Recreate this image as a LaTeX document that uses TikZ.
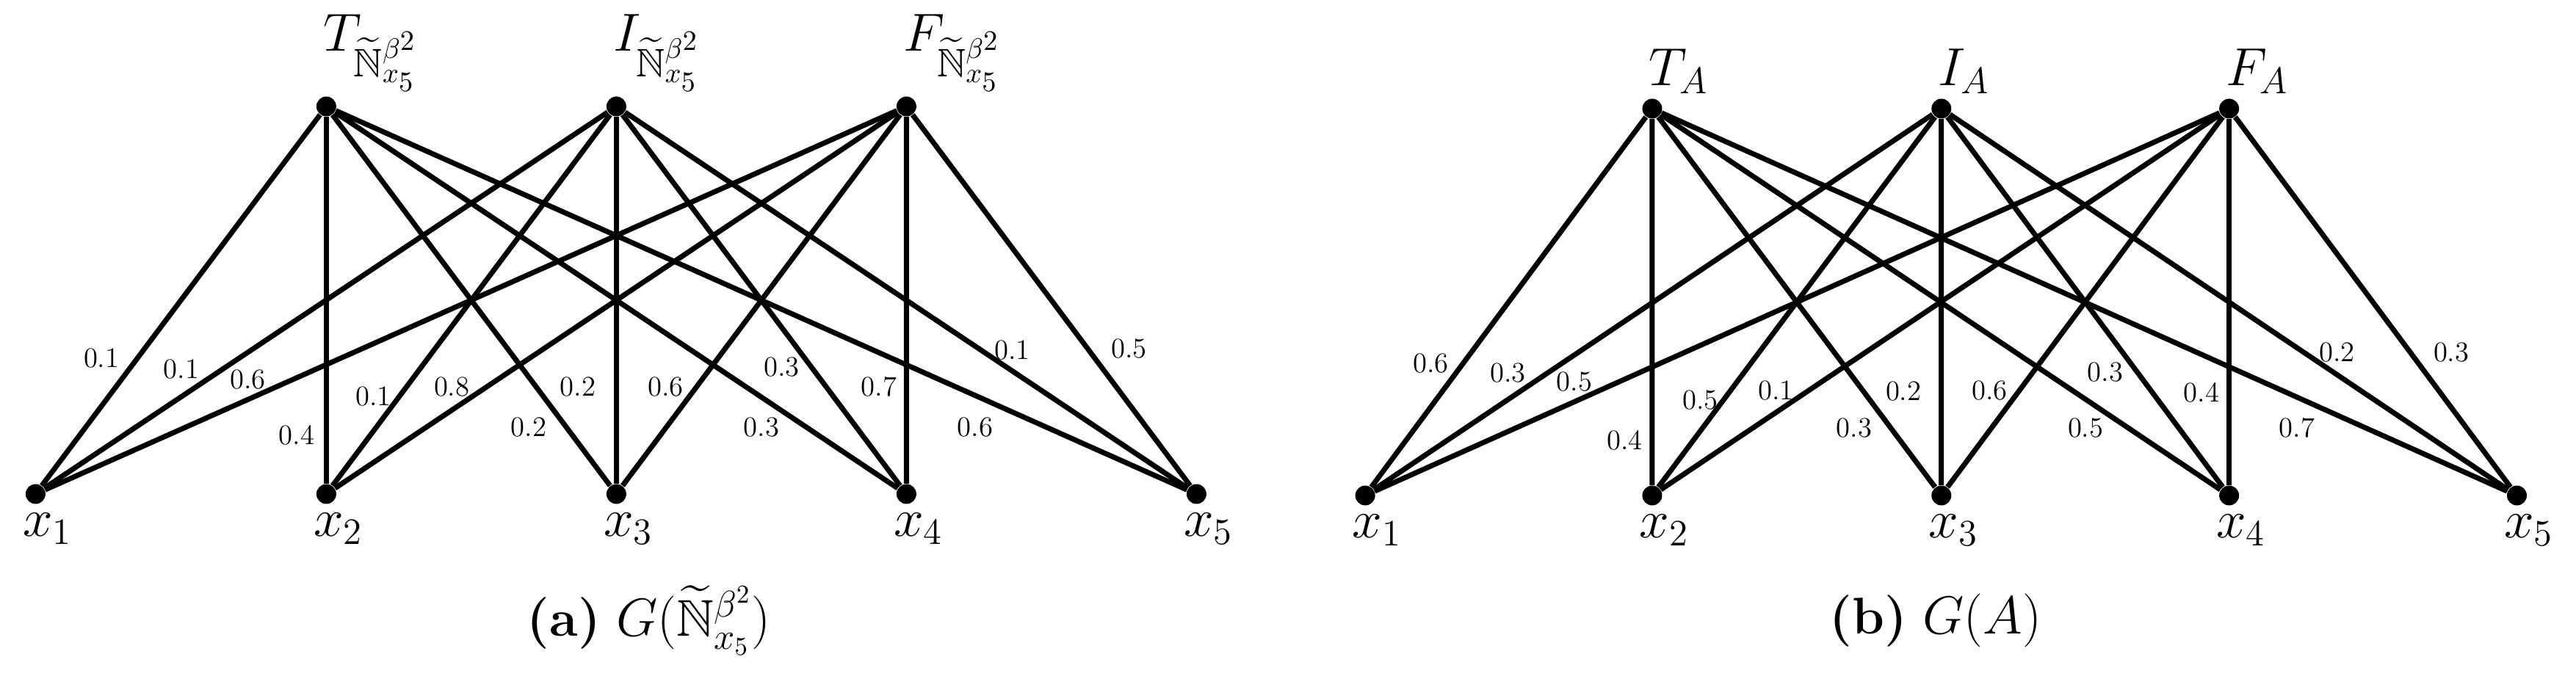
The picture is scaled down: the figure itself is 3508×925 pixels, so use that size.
\documentclass[tikz,border=0pt]{standalone}
\usepackage{amssymb}
\begin{document}
\begin{tikzpicture}[x=0.01cm,y=-0.01cm,
  dot/.style={circle,fill=black,inner sep=0pt,minimum size=0.27cm},
  edge/.style={line width=2pt},
  wl/.style={font=\fontsize{11}{13}\selectfont,inner sep=0pt},
  vl/.style={font=\fontsize{22}{26}\selectfont,inner sep=0pt},
  captext/.style={font=\fontsize{20}{24}\selectfont,inner sep=0pt}]
\useasboundingbox (0,0) rectangle (3508,925);
% ---------- left graph
\begin{scope}[xscale=0.9875]
\foreach \n/\x in {T/450,I/850,F/1250}{\node[dot] (a\n) at (\x,145) {};}
\foreach \i/\x in {1/49,2/450,3/850,4/1250,5/1650}{
  \node[dot] (a\i) at (\x,673) {};
  \node[vl,anchor=north west] (ax\i) at ([xshift=-0.18cm,yshift=-0.25cm]a\i) {$x_{\i}$};}
\node[vl,anchor=south west] (aTl) at ([xshift=-0.05cm,yshift=0.2cm]aT) {$T_{\widetilde{\mathbb{N}}^{\beta^2}_{x_5}}$};
\node[vl,anchor=south west] (aIl) at ([xshift=-0.05cm,yshift=0.2cm]aI) {$I_{\widetilde{\mathbb{N}}^{\beta^2}_{x_5}}$};
\node[vl,anchor=south west] (aFl) at ([xshift=-0.05cm,yshift=0.2cm]aF) {$F_{\widetilde{\mathbb{N}}^{\beta^2}_{x_5}}$};
\foreach \t in {T,I,F}{\foreach \b in {1,...,5}{\draw[edge] (a\t) -- (a\b);}}
\foreach \v/\x/\y in {0.1/140/488,0.1/250/503,0.6/342/517,0.4/409/593,0.1/515/540,0.8/623/527,0.2/729/582,0.2/797/527,0.6/918/527,0.3/1050/582,0.3/1078/500,0.7/1212/527,0.6/1345/582,0.1/1396/477,0.5/1557/475}
  {\node[wl] at (\x,\y) {\v};}
\node[captext] (capa) at (895,845) {\textbf{(a)} $G(\widetilde{\mathbb{N}}^{\beta^2}_{x_5})$};
\end{scope}
% ---------- right graph
\begin{scope}[xshift=0.1cm,xscale=0.992]
\foreach \n/\x in {T/2258,I/2655,F/3050}{\node[dot] (b\n) at (\x,148) {};}
\foreach \i/\x in {1/1864,2/2258,3/2655,4/3050,5/3445}{
  \node[dot] (b\i) at (\x,675) {};
  \node[vl,anchor=north west] (bx\i) at ([xshift=-0.18cm,yshift=-0.25cm]b\i) {$x_{\i}$};}
\node[vl,anchor=south west] (bTl) at ([xshift=-0.05cm,yshift=0.2cm]bT) {$T_A$};
\node[vl,anchor=south west] (bIl) at ([xshift=-0.05cm,yshift=0.2cm]bI) {$I_A$};
\node[vl,anchor=south west] (bFl) at ([xshift=-0.05cm,yshift=0.2cm]bF) {$F_A$};
\foreach \t in {T,I,F}{\foreach \b in {1,...,5}{\draw[edge] (b\t) -- (b\b);}}
\foreach \v/\x/\y in {0.6/1954/495,0.3/2060/508,0.5/2151/520,0.4/2220/600,0.5/2324/545,0.1/2428/532,0.3/2535/583,0.2/2603/533,0.6/2721/532,0.5/2853/583,0.3/2880/507,0.4/3012/535,0.7/3143/583,0.2/3198/480,0.3/3355/480}
  {\node[wl] at (\x,\y) {\v};}
\node[captext] (capb) at (2647,845) {\textbf{(b)} $G(A)$};
\end{scope}
\end{tikzpicture}
\end{document}
